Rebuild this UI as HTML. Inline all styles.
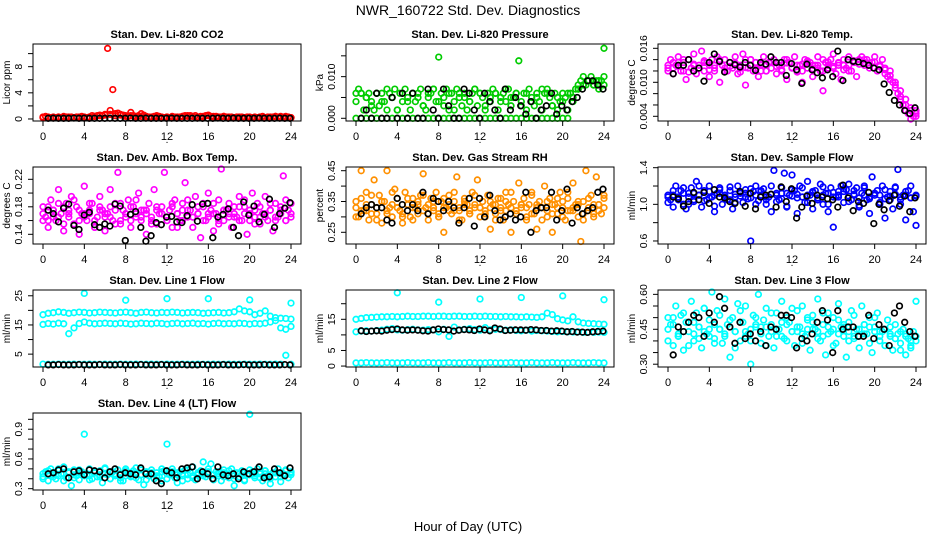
<!DOCTYPE html>
<html><head><meta charset="utf-8"><style>
html,body{margin:0;padding:0;background:#fff}
svg{display:block;font-family:"Liberation Sans",Arial,sans-serif}
</style></head><body>
<svg id="chart" width="936" height="540" viewBox="0 0 936 540" xmlns="http://www.w3.org/2000/svg">
<rect x="0" y="0" width="936" height="540" fill="#fff"/>
<text x="468" y="15" font-size="14" text-anchor="middle">NWR_160722  Std. Dev. Diagnostics</text>
<text x="468" y="531" font-size="13" text-anchor="middle">Hour of Day (UTC)</text>
</svg>
<script>
const xTicks=[0,4,8,12,16,20,24];
// Panel 1 CO2
const co2Red=[0.3,0.4,0.2,0.2,0.3,0.2,0.3,0.2,0.4,0.3,0.2,0.3,0.2,0.3,0.2,0.4,0.3,0.2,0.3,0.5,0.4,0.5,0.6,0.5,0.7,10.8,1.3,4.5,0.8,0.9,0.7,0.6,0.5,0.4,1.0,0.5,0.4,0.5,0.8,0.6,0.4,0.3,0.3,0.4,0.5,0.4,0.3,0.2,0.3,0.2,0.2,0.3,0.2,0.3,0.4,0.5,0.4,0.5,0.4,0.5,0.3,0.4,0.3,0.5,0.6,0.4,0.3,0.4,0.3,0.3,0.4,0.3,0.2,0.3,0.2,0.3,0.2,0.3,0.2,0.3,0.2,0.2,0.3,0.2,0.3,0.4,0.2,0.3,0.2,0.3,0.4,0.3,0.4,0.3,0.2,0.3,0.2];
const co2RedB=[0.2,0.3,0.2,0.3,0.2,0.3,0.2,0.3,0.2,0.3,0.4,0.5,0.6,0.7,0.5,0.6,0.4,0.5,0.3,0.4,0.3,0.2,0.3,0.2,0.3,0.4,0.3,0.4,0.5,0.4,0.3,0.4,0.5,0.4,0.3,0.4,0.3,0.2,0.3,0.2,0.3,0.2,0.3,0.2,0.3,0.4,0.3,0.4,0.2];
const co2Black=[0.1,0.12,0.1,0.11,0.1,0.13,0.1,0.12,0.1,0.11,0.1,0.1,0.12,0.1,0.11,0.1,0.13,0.1,0.1,0.12,0.1,0.11,0.1,0.1,0.12,0.1,0.11,0.1,0.1,0.12,0.1,0.11,0.1,0.13,0.1,0.1,0.12,0.1,0.11,0.1,0.1,0.12,0.1,0.11,0.1,0.12,0.1,0.11];
// Panel 2 Pressure
const presGreenA=[0.006,0.007,0.006,0.002,0.005,0.006,0.004,0.002,0.006,0.003,0.006,0.004,0.002,0.006,0.005,0.007,0.002,0.006,0.004,0.007,0.005,0.002,0.006,0.004,0.006,0.007,0.003,0.002,0.005,0.006,0.007,0.004,0.0147,0.006,0.003,0.007,0.002,0.006,0.004,0.007,0.005,0.003,0.006,0.002,0.004,0.006,0.007,0.003,0.006,0.005,0.002,0.006,0.004,0.007,0.006,0.002,0.005,0.006,0.004,0.007,0.003,0.005,0.006,0.0138,0.004,0.006,0.002,0.007,0.005,0.003,0.006,0.004,0.002,0.006,0.007,0.005,0.003,0.006,0.002,0.004,0.006,0.005,0.002,0.006,0.004,0.007,0.008,0.009,0.010,0.008,0.009,0.010,0.008,0.009,0.007,0.009,0.0168];
const presGreenB=[0,0,0,0,0,0,0,0,0,0,0,0,0,0,0,0,0,0,0,0,0,0,0,0,0,0,0,0,0,0,0,0,0,0,0,0,0,0,0,0,0,0,0.005,0.007,0.008,0.009,0.008,0.009,0.010];
const presGreenC=[0.004,0.006,0.005,0.003,0.006,0.004,0.007,0.005,0.002,0.006,0.004,0.006,0.005,0.003,0.006,0.007,0.004,0.005,0.006,0.002,0.006,0.005,0.004,0.007,0.006,0.003,0.005,0.006,0.004,0.007,0.005,0.006,0.003,0.006,0.004,0.005,0.007,0.006,0.003,0.005,0.004,0.006,0.005,0.007,0.008,0.009,0.008,0.009,0.008];
const presBlack=[0,0.002,0,0.006,0,0,0.005,0,0.006,0,0.006,0,0,0.007,0.002,0,0.007,0.003,0,0,0.007,0.006,0.002,0,0.006,0.004,0.002,0,0.007,0.002,0.005,0.003,0.001,0.004,0,0.002,0.003,0.006,0.001,0.003,0.002,0.004,0.005,0.007,0.009,0.009,0.008,0.007];
// Panel 3 Li-820 Temp
const litMagA=[0.0125,0.0140,0.0115,0.0130,0.0145,0.0120,0.0135,0.0105,0.0140,0.0125,0.0150,0.0115,0.0130,0.0155,0.0120,0.0135,0.0110,0.0140,0.0125,0.0145,0.0100,0.0130,0.0140,0.0120,0.0135,0.0125,0.0145,0.0115,0.0130,0.0150,0.0095,0.0125,0.0140,0.0120,0.0135,0.0110,0.0130,0.0145,0.0120,0.0135,0.0125,0.0140,0.0115,0.0130,0.0120,0.0140,0.0105,0.0135,0.0125,0.0145,0.0120,0.0130,0.0100,0.0140,0.0125,0.0135,0.0110,0.0130,0.0145,0.0120,0.0085,0.0135,0.0125,0.0140,0.0150,0.0115,0.0130,0.0105,0.0140,0.0125,0.0145,0.0120,0.0135,0.0110,0.0140,0.0145,0.0130,0.0140,0.0125,0.0135,0.0145,0.0120,0.0130,0.0140,0.0125,0.0110,0.0120,0.0100,0.0090,0.0080,0.0070,0.0060,0.0050,0.0045,0.0035,0.0040,0.0050];
const litMagB=[0.0130,0.0125,0.0135,0.0120,0.0140,0.0130,0.0125,0.0135,0.0130,0.0120,0.0140,0.0125,0.0135,0.0130,0.0125,0.0140,0.0130,0.0135,0.0120,0.0130,0.0125,0.0135,0.0130,0.0140,0.0125,0.0130,0.0120,0.0135,0.0130,0.0125,0.0140,0.0130,0.0125,0.0135,0.0130,0.0120,0.0135,0.0140,0.0135,0.0130,0.0125,0.0130,0.0115,0.0105,0.0095,0.0075,0.0060,0.0050,0.0040];
const litMagC=[0.0120,0.0135,0.0128,0.0140,0.0118,0.0132,0.0125,0.0138,0.0122,0.0130,0.0136,0.0120,0.0128,0.0134,0.0118,0.0126,0.0140,0.0124,0.0132,0.0120,0.0136,0.0128,0.0122,0.0134,0.0126,0.0118,0.0132,0.0138,0.0124,0.0130,0.0120,0.0136,0.0128,0.0134,0.0122,0.0130,0.0138,0.0132,0.0140,0.0134,0.0136,0.0128,0.0122,0.0112,0.0100,0.0085,0.0070,0.0055,0.0045];
const litBlack=[0.0115,0.0130,0.0130,0.0140,0.0120,0.0125,0.0102,0.0135,0.0150,0.0137,0.0118,0.0135,0.0131,0.0127,0.0135,0.0130,0.0121,0.0135,0.0132,0.0145,0.0135,0.0135,0.0112,0.0133,0.0122,0.0098,0.0132,0.0122,0.0117,0.0108,0.0122,0.0110,0.0155,0.0103,0.0140,0.0137,0.0136,0.0133,0.0130,0.0125,0.0122,0.0097,0.0082,0.0068,0.0060,0.0050,0.0045,0.0055];
// Panel 4 Amb box temp
const ambMagA=[0.180,0.165,0.150,0.190,0.175,0.160,0.205,0.170,0.145,0.185,0.165,0.195,0.155,0.180,0.140,0.170,0.210,0.160,0.175,0.185,0.150,0.165,0.195,0.175,0.145,0.170,0.205,0.160,0.185,0.230,0.155,0.175,0.165,0.190,0.150,0.180,0.170,0.200,0.160,0.175,0.140,0.185,0.165,0.205,0.155,0.170,0.180,0.230,0.160,0.175,0.150,0.190,0.170,0.160,0.185,0.215,0.165,0.175,0.150,0.195,0.170,0.135,0.185,0.160,0.200,0.175,0.145,0.170,0.190,0.235,0.160,0.175,0.185,0.150,0.170,0.165,0.195,0.160,0.180,0.140,0.175,0.200,0.165,0.185,0.155,0.170,0.195,0.160,0.175,0.145,0.185,0.165,0.180,0.225,0.160,0.175,0.185];
const ambMagB=[0.170,0.160,0.175,0.165,0.180,0.170,0.155,0.175,0.165,0.170,0.160,0.180,0.170,0.165,0.175,0.160,0.170,0.180,0.165,0.175,0.170,0.160,0.175,0.170,0.165,0.180,0.170,0.160,0.175,0.165,0.170,0.180,0.165,0.170,0.160,0.175,0.170,0.165,0.180,0.170,0.160,0.175,0.165,0.170,0.175,0.165,0.170,0.160,0.170];
const ambMagC=[0.160,0.180,0.165,0.185,0.155,0.175,0.190,0.160,0.170,0.185,0.150,0.175,0.165,0.180,0.155,0.185,0.170,0.160,0.190,0.165,0.175,0.155,0.180,0.170,0.160,0.185,0.150,0.175,0.190,0.165,0.180,0.160,0.170,0.185,0.155,0.175,0.165,0.180,0.160,0.190,0.170,0.155,0.180,0.165,0.185,0.160,0.175,0.190,0.165];
const ambBlack=[0.175,0.170,0.158,0.178,0.184,0.153,0.147,0.168,0.172,0.154,0.150,0.155,0.152,0.184,0.181,0.131,0.169,0.173,0.150,0.130,0.138,0.157,0.154,0.165,0.166,0.158,0.157,0.167,0.183,0.159,0.184,0.185,0.135,0.165,0.169,0.177,0.150,0.138,0.187,0.168,0.181,0.158,0.169,0.191,0.150,0.170,0.178,0.186];
// Panel 5 Gas stream RH
const rhOrangeA=[0.35,0.30,0.45,0.32,0.38,0.29,0.34,0.42,0.31,0.37,0.28,0.35,0.45,0.33,0.30,0.39,0.36,0.32,0.28,0.38,0.34,0.30,0.36,0.33,0.31,0.37,0.44,0.33,0.29,0.36,0.32,0.38,0.30,0.35,0.25,0.33,0.37,0.31,0.35,0.43,0.32,0.29,0.36,0.34,0.31,0.38,0.33,0.42,0.30,0.35,0.32,0.37,0.26,0.34,0.31,0.36,0.33,0.29,0.38,0.34,0.25,0.35,0.31,0.41,0.33,0.36,0.29,0.34,0.38,0.31,0.26,0.35,0.33,0.40,0.30,0.36,0.25,0.34,0.31,0.38,0.33,0.29,0.36,0.32,0.41,0.34,0.30,0.22,0.35,0.45,0.32,0.37,0.30,0.43,0.34,0.31,0.36];
const rhOrangeB=[0.33,0.32,0.34,0.31,0.33,0.35,0.32,0.34,0.33,0.31,0.34,0.33,0.35,0.32,0.34,0.33,0.31,0.33,0.34,0.32,0.33,0.35,0.32,0.34,0.33,0.31,0.33,0.34,0.32,0.35,0.33,0.32,0.34,0.33,0.31,0.34,0.33,0.32,0.34,0.33,0.35,0.32,0.33,0.34,0.31,0.33,0.34,0.32,0.33];
const rhOrangeC=[0.30,0.36,0.32,0.37,0.29,0.35,0.31,0.38,0.33,0.30,0.36,0.29,0.34,0.37,0.31,0.35,0.30,0.36,0.32,0.38,0.29,0.34,0.31,0.37,0.33,0.30,0.35,0.29,0.36,0.32,0.38,0.31,0.34,0.30,0.37,0.33,0.29,0.35,0.31,0.36,0.30,0.38,0.32,0.35,0.29,0.36,0.31,0.34,0.37];
const rhBlack=[0.31,0.33,0.34,0.33,0.33,0.29,0.28,0.36,0.34,0.32,0.34,0.32,0.38,0.31,0.36,0.35,0.32,0.35,0.33,0.28,0.33,0.36,0.27,0.36,0.30,0.37,0.32,0.29,0.30,0.31,0.29,0.30,0.38,0.25,0.32,0.33,0.33,0.38,0.29,0.32,0.39,0.28,0.33,0.31,0.32,0.33,0.38,0.39];
// Panel 6 Sample flow
const sfBlueA=[1.10,1.05,0.97,1.20,1.08,1.15,1.00,0.95,1.12,1.18,1.03,1.25,1.10,0.97,1.15,1.05,1.20,1.08,0.92,1.12,1.18,1.00,1.10,1.05,1.15,0.95,1.08,1.20,1.12,1.02,1.16,1.06,0.60,1.14,1.20,1.04,1.10,1.17,1.00,1.08,0.92,1.37,1.12,1.05,1.18,1.34,0.97,1.10,1.32,1.15,0.90,1.20,1.08,1.02,1.25,1.10,0.95,1.15,1.05,1.22,1.00,1.12,0.92,1.18,0.75,1.08,1.14,1.20,1.02,1.16,1.22,1.05,1.10,1.18,0.97,1.12,1.20,1.05,0.90,1.30,1.10,1.15,1.00,1.20,0.85,1.08,1.14,0.95,1.18,1.38,1.05,1.10,0.83,1.15,1.20,0.92,0.77];
const sfBlueB=[1.08,1.10,1.06,1.12,1.08,1.05,1.10,1.13,1.07,1.10,1.12,1.08,1.05,1.11,1.09,1.12,1.07,1.10,1.14,1.08,1.11,1.10,1.06,1.12,1.09,1.11,1.08,1.10,1.13,1.07,1.10,1.12,1.08,1.10,1.14,1.09,1.11,1.07,1.10,1.08,1.12,1.10,1.06,1.09,1.11,1.08,1.10,1.07,1.09];
const sfBlueC=[1.02,1.15,1.05,1.18,1.00,1.12,1.20,1.04,1.14,0.98,1.16,1.06,1.19,1.02,1.13,1.08,1.17,1.00,1.15,1.05,1.20,1.03,1.12,0.98,1.16,1.07,1.18,1.02,1.14,1.05,1.19,1.00,1.13,1.08,1.17,1.03,1.15,0.99,1.18,1.06,1.12,1.02,1.16,1.05,1.19,1.00,1.14,1.07,1.10];
const sfBlack=[1.08,1.06,0.98,1.03,1.13,1.05,1.13,1.01,1.16,1.08,1.07,1.03,1.01,1.14,0.98,1.12,0.95,1.08,1.10,1.11,0.97,1.19,1.03,1.17,0.85,0.97,1.09,1.01,1.10,1.08,1.06,1.05,0.97,1.21,1.07,0.93,1.03,1.01,1.13,0.79,1.00,0.94,1.04,1.10,0.98,1.09,0.92,1.07];
// Panel 7 Line 1 flow
const l1Upper=[18.5,19,19.2,19.5,19.3,19,19.2,19.4,19.3,19.1,19.2,19.4,19.3,19.2,19.1,19.3,19.4,19.2,19,19.3,19.4,19.2,19.1,19.3,19.2,19.4,19.3,19.1,19.2,19.3,19.2,19,19.1,19.2,19.3,19.1,19.2,19.5,20.5,19.8,19.5,18.5,19,19.8,18,17.5,17.3,17.2,17];
const l1Mid=[15.2,15.5,15.3,15.6,15.4,12,14,15.5,16,15.6,15.4,15.5,15.6,15.5,15.4,15.6,15.5,15.3,15.4,15.6,15.5,15.4,15.6,15.5,15.3,15.5,15.6,15.4,15.5,15.6,15.4,15.5,15.3,15.5,15.6,15.4,15.5,15.4,15.6,15.5,15.3,15.5,15.4,15.6,16,16.5,14,13.5,14.5];
const l1Low=[1.6,1.5,1.5,1.6,1.5,1.5,1.6,1.5,1.5,1.6,1.5,1.5,1.6,1.5,1.5,1.6,1.5,1.5,1.6,1.5,1.5,1.6,1.5,1.5,1.6,1.5,1.5,1.6,1.5,1.5,1.6,1.5,1.5,1.6,1.5,1.5,1.6,1.5,1.5,1.6,1.5,1.5,1.6,1.5,1.5,1.6,1.5,4.6,1.5];
const l1OutHours=[4,8,12,16,20,24];
const l1OutVals=[25.8,23.5,24,24,23.6,22.5];
const l1Black=[1.3,1.3,1.4,1.3,1.3,1.3,1.4,1.3,1.3,1.3,1.4,1.3,1.3,1.3,1.4,1.3,1.3,1.3,1.4,1.3,1.3,1.3,1.4,1.3,1.3,1.3,1.4,1.3,1.3,1.3,1.4,1.3,1.3,1.3,1.4,1.3,1.3,1.3,1.4,1.3,1.3,1.3,1.4,1.3,1.3,1.3,1.4,1.3];
// Panel 8 Line 2 flow
const l2Upper=[15,15.3,15.5,15.6,15.7,15.8,15.8,15.9,15.8,15.9,16,15.9,15.9,16,16,15.9,16,16,15.9,16,16,15.9,15.9,16,15.9,16,15.9,15.9,15.8,15.9,15.8,15.8,15.7,15.8,15.7,15.6,15.8,17,16.5,15.2,14.8,14.5,15.8,14.2,13.8,13.7,13.6,13.5,13.4];
const l2Mid=[11,11.2,11.3,11.2,11.4,11.5,11.8,12,11.6,11.5,11.7,11.8,11.6,11.5,11.7,11.6,11,11.8,9.5,12.5,11.6,11.8,12,11.7,11.5,12.3,11.6,11.8,11.7,11.5,11.6,11.4,11.3,11.5,11.2,11.4,11.3,11.2,11.1,11,11.1,11,10.9,11,10.8,10.9,10.8,10.9,10.8];
const l2Low=[1,1,1.1,1,1,1,1.1,1,1,1,1.1,1,1,1,1.1,1,1,1,1.1,1,1,1,1.1,1,1,1,1.1,1,1,1,1.1,1,1,1,1.1,1,1,1,1.1,1,1,1,1.1,1,1,1,1.1,1,1];
const l2OutHours=[4,8,12,16,20,24];
const l2OutVals=[23.5,20.5,21.5,22,22.5,21.3];
const l2Black=[11.3,11.1,11.2,11.3,11.2,11.5,11.7,11.9,11.6,11.5,11.6,11.5,11.3,11.2,11.6,11.9,11.7,11.6,11.2,11.5,11.7,11.6,11.4,11.9,11.6,11.3,12.2,11.9,11.4,11.5,11.6,11.6,11.5,11.7,11.6,11.4,11.4,11.2,11.3,11.2,11.0,11.1,10.9,10.9,10.8,11.0,11.1,11.2];
// Panel 9 Line 3 flow
const l3CyanA=[0.50,0.47,0.38,0.55,0.42,0.51,0.36,0.48,0.44,0.57,0.40,0.52,0.46,0.37,0.54,0.43,0.49,0.61,0.41,0.53,0.45,0.39,0.58,0.47,0.33,0.50,0.44,0.56,0.40,0.48,0.55,0.43,0.30,0.51,0.46,0.60,0.39,0.49,0.54,0.42,0.47,0.37,0.52,0.45,0.57,0.41,0.50,0.48,0.44,0.38,0.53,0.46,0.55,0.42,0.49,0.36,0.51,0.45,0.58,0.40,0.47,0.34,0.52,0.44,0.50,0.39,0.56,0.46,0.42,0.33,0.48,0.53,0.41,0.45,0.37,0.55,0.47,0.43,0.50,0.35,0.46,0.52,0.40,0.44,0.38,0.49,0.42,0.36,0.47,0.43,0.39,0.45,0.34,0.41,0.37,0.44,0.57];
const l3CyanB=[0.45,0.47,0.42,0.44,0.48,0.43,0.46,0.44,0.42,0.47,0.45,0.43,0.46,0.44,0.48,0.42,0.45,0.47,0.43,0.46,0.44,0.45,0.42,0.47,0.44,0.46,0.43,0.45,0.48,0.44,0.42,0.46,0.45,0.43,0.47,0.44,0.42,0.45,0.43,0.46,0.44,0.42,0.45,0.43,0.41,0.44,0.42,0.40,0.42];
const l3CyanC=[0.40,0.50,0.43,0.52,0.38,0.48,0.41,0.54,0.45,0.39,0.51,0.42,0.49,0.37,0.53,0.44,0.40,0.50,0.46,0.38,0.52,0.42,0.48,0.40,0.54,0.44,0.39,0.50,0.45,0.41,0.52,0.43,0.38,0.49,0.46,0.40,0.51,0.42,0.47,0.39,0.50,0.44,0.38,0.46,0.41,0.36,0.43,0.38,0.40];
const l3Black=[0.34,0.46,0.44,0.48,0.51,0.50,0.42,0.52,0.48,0.59,0.54,0.46,0.39,0.48,0.41,0.43,0.40,0.44,0.38,0.46,0.45,0.51,0.51,0.50,0.37,0.41,0.40,0.43,0.48,0.53,0.49,0.35,0.53,0.45,0.46,0.46,0.42,0.42,0.51,0.41,0.47,0.45,0.38,0.52,0.55,0.48,0.44,0.42];
// Panel 10 Line 4 flow
const l4CyanA=[0.42,0.47,0.38,0.50,0.44,0.40,0.48,0.45,0.52,0.41,0.46,0.33,0.49,0.43,0.39,0.47,0.85,0.44,0.50,0.40,0.46,0.42,0.48,0.36,0.51,0.44,0.40,0.47,0.43,0.49,0.41,0.38,0.50,0.45,0.42,0.48,0.51,0.39,0.44,0.34,0.47,0.43,0.49,0.40,0.46,0.42,0.38,0.48,0.75,0.44,0.50,0.41,0.36,0.47,0.43,0.49,0.40,0.46,0.52,0.39,0.44,0.48,0.57,0.42,0.45,0.55,0.40,0.47,0.43,0.38,0.49,0.45,0.41,0.50,0.33,0.46,0.42,0.48,0.39,0.44,1.05,0.47,0.41,0.50,0.45,0.38,0.48,0.43,0.35,0.46,0.42,0.50,0.37,0.45,0.48,0.41,0.47];
const l4CyanB=[0.45,0.44,0.46,0.43,0.45,0.47,0.44,0.46,0.45,0.43,0.46,0.44,0.45,0.47,0.44,0.45,0.43,0.46,0.45,0.44,0.46,0.45,0.43,0.47,0.45,0.44,0.46,0.45,0.44,0.43,0.46,0.45,0.47,0.44,0.45,0.46,0.44,0.43,0.45,0.46,0.44,0.45,0.47,0.45,0.44,0.46,0.45,0.44,0.46];
const l4CyanC=[0.40,0.48,0.42,0.50,0.38,0.46,0.41,0.49,0.43,0.39,0.47,0.42,0.50,0.40,0.45,0.38,0.48,0.43,0.41,0.49,0.39,0.46,0.42,0.50,0.40,0.47,0.44,0.38,0.49,0.41,0.46,0.43,0.50,0.39,0.47,0.42,0.48,0.40,0.45,0.38,0.49,0.43,0.41,0.48,0.40,0.46,0.42,0.49,0.44];
const l4Black=[0.45,0.46,0.49,0.50,0.41,0.47,0.48,0.44,0.49,0.48,0.47,0.41,0.47,0.50,0.44,0.46,0.45,0.44,0.51,0.45,0.45,0.38,0.35,0.48,0.46,0.41,0.50,0.51,0.52,0.40,0.47,0.45,0.40,0.52,0.44,0.43,0.45,0.40,0.47,0.45,0.47,0.52,0.41,0.42,0.50,0.46,0.43,0.51];

const NS="http://www.w3.org/2000/svg";
const svg=document.getElementById('chart');
function mk(tag,attrs,parent){const e=document.createElementNS(NS,tag);for(const k in attrs)e.setAttribute(k,attrs[k]);(parent||svg).appendChild(e);return e;}
const colLeft=[33,346,658], rowTop=[44,167,290,413], W=268, H=77;
function evenHours(n){const h=[];for(let i=0;i<n;i++)h.push(i*24/(n-1));return h;}
function blackHours(n){const h=[];for(let i=0;i<n;i++)h.push(0.5+i*23.4/(n-1));return h;}

const panels=[
 {key:'co2',title:'Stan. Dev. Li-820 CO2',ylab:'Licor ppm',col:0,row:0,ymin:-0.31,ymax:11.47,ticks:[0,2,4,6,8,10],labels:['0','','4','','8',''],series:[[co2Red,'#ff0000'],[co2RedB,'#ff0000'],[co2Black,'#000']]},
 {key:'pressure',title:'Stan. Dev. Li-820 Pressure',ylab:'kPa',col:1,row:0,ymin:-0.00065,ymax:0.01784,ticks:[0,0.005,0.01,0.015],labels:['0.000','','0.010',''],series:[[presGreenB,'#00cc00'],[presGreenA,'#00cc00'],[presGreenC,'#00cc00'],[presBlack,'#000']]},
 {key:'li-temp',title:'Stan. Dev. Li-820 Temp.',ylab:'degrees C',col:2,row:0,ymin:0.00317,ymax:0.01676,ticks:[0.004,0.006,0.008,0.010,0.012,0.014,0.016],labels:['0.004','','','0.010','','','0.016'],series:[[litMagA,'#ff00ff'],[litMagB,'#ff00ff'],[litMagC,'#ff00ff'],[litBlack,'#000']]},
 {key:'amb-temp',title:'Stan. Dev. Amb. Box Temp.',ylab:'degrees C',col:0,row:1,ymin:0.1259,ymax:0.2379,ticks:[0.14,0.16,0.18,0.20,0.22],labels:['0.14','','0.18','','0.22'],series:[[ambMagA,'#ff00ff'],[ambMagB,'#ff00ff'],[ambMagC,'#ff00ff'],[ambBlack,'#000']]},
 {key:'rh',title:'Stan. Dev. Gas Stream RH',ylab:'percent',col:1,row:1,ymin:0.212,ymax:0.462,ticks:[0.25,0.30,0.35,0.40,0.45],labels:['0.25','','0.35','','0.45'],series:[[rhOrangeA,'#ff9000'],[rhOrangeB,'#ff9000'],[rhOrangeC,'#ff9000'],[rhBlack,'#000']]},
 {key:'sample-flow',title:'Stan. Dev. Sample Flow',ylab:'ml/min',col:2,row:1,ymin:0.567,ymax:1.4076,ticks:[0.6,0.8,1.0,1.2,1.4],labels:['0.6','','1.0','','1.4'],series:[[sfBlueA,'#0000ff'],[sfBlueB,'#0000ff'],[sfBlueC,'#0000ff'],[sfBlack,'#000']]},
 {key:'line1',title:'Stan. Dev. Line 1 Flow',ylab:'ml/min',col:0,row:2,ymin:0.59,ymax:26.98,ticks:[5,10,15,20,25],labels:['5','','15','','25'],series:[[l1Upper,'#00ffff'],[l1Mid,'#00ffff'],[l1Low,'#00ffff'],[l1Black,'#000']],out:[l1OutHours,l1OutVals]},
 {key:'line2',title:'Stan. Dev. Line 2 Flow',ylab:'ml/min',col:1,row:2,ymin:-0.3,ymax:24.4,ticks:[0,5,10,15,20],labels:['0','5','','15',''],series:[[l2Upper,'#00ffff'],[l2Mid,'#00ffff'],[l2Low,'#00ffff'],[l2Black,'#000']],out:[l2OutHours,l2OutVals]},
 {key:'line3',title:'Stan. Dev. Line 3 Flow',ylab:'ml/min',col:2,row:2,ymin:0.288,ymax:0.6187,ticks:[0.30,0.35,0.40,0.45,0.50,0.55,0.60],labels:['0.30','','','0.45','','','0.60'],series:[[l3CyanA,'#00ffff'],[l3CyanB,'#00ffff'],[l3CyanC,'#00ffff'],[l3Black,'#000']]},
 {key:'line4',title:'Stan. Dev. Line 4 (LT) Flow',ylab:'ml/min',col:0,row:3,ymin:0.2867,ymax:1.0636,ticks:[0.3,0.4,0.5,0.6,0.7,0.8,0.9,1.0],labels:['0.3','','','0.6','','','0.9',''],series:[[l4CyanA,'#00ffff'],[l4CyanB,'#00ffff'],[l4CyanC,'#00ffff'],[l4Black,'#000']]}
];

panels.forEach(p=>{
  const L=colLeft[p.col], T=rowTop[p.row], B=T+H, R=L+W;
  const g=mk('g',{});
  
  
  const sx=h=>L+10+h*(W-20)/24;
  const sy=v=>B-(v-p.ymin)/(p.ymax-p.ymin)*H;
  const t=mk('text',{x:L+W/2,y:T-6,'font-size':11,'font-weight':'bold','text-anchor':'middle'},g);
  t.textContent=p.title;
  
  
  const pts=mk('g',{fill:'none','stroke-width':1.7},g);
  
  
  const drawSet=(hours,vals,color)=>{
    vals.forEach((v,i)=>{
      const c=mk('circle',{cx:sx(hours[i]).toFixed(1),cy:sy(v).toFixed(1),r:2.8,stroke:color},pts);
      
      
    });
  };
  p.series.forEach(([vals,color])=>{
    if(color!=='#000') drawSet(evenHours(vals.length),vals,color);
  });
  if(p.out) drawSet(p.out[0],p.out[1],'#00ffff');
  p.series.forEach(([vals,color])=>{
    if(color==='#000') drawSet(blackHours(vals.length),vals,color);
  });
  const box=mk('rect',{x:L,y:T,width:W,height:H,fill:'none',stroke:'#000','stroke-width':1},g);
  
  
  const xa=mk('g',{},g);
  
  
  mk('line',{x1:sx(0),x2:sx(24),y1:B,y2:B,stroke:'#000'},xa);
  xTicks.forEach(h=>{
    mk('line',{x1:sx(h),x2:sx(h),y1:B,y2:B+5,stroke:'#000'},xa);
    const tl=mk('text',{x:sx(h),y:B+19,'font-size':11,'text-anchor':'middle'},xa);
    tl.textContent=h;
  });
  const dot=mk('text',{x:L+W/2,y:B+22,'font-size':10,'text-anchor':'middle'},xa);
  dot.textContent='.';
  const ya=mk('g',{},g);
  
  
  mk('line',{x1:L,x2:L,y1:sy(p.ticks[0]),y2:sy(p.ticks[p.ticks.length-1]),stroke:'#000'},ya);
  p.ticks.forEach((v,i)=>{
    const y=sy(v);
    mk('line',{x1:L-5,x2:L,y1:y,y2:y,stroke:'#000'},ya);
    if(p.labels[i]){
      const tl=mk('text',{x:L-11,y:y,'font-size':10.5,'text-anchor':'middle',transform:`rotate(-90 ${L-11} ${y})`},ya);
      tl.textContent=p.labels[i];
    }
  });
  const yt=mk('text',{x:L-23,y:T+H/2,'font-size':10,'text-anchor':'middle',transform:`rotate(-90 ${L-23} ${T+H/2})`},g);
  yt.textContent=p.ylab;
  
  
});
</script>
</body></html>
